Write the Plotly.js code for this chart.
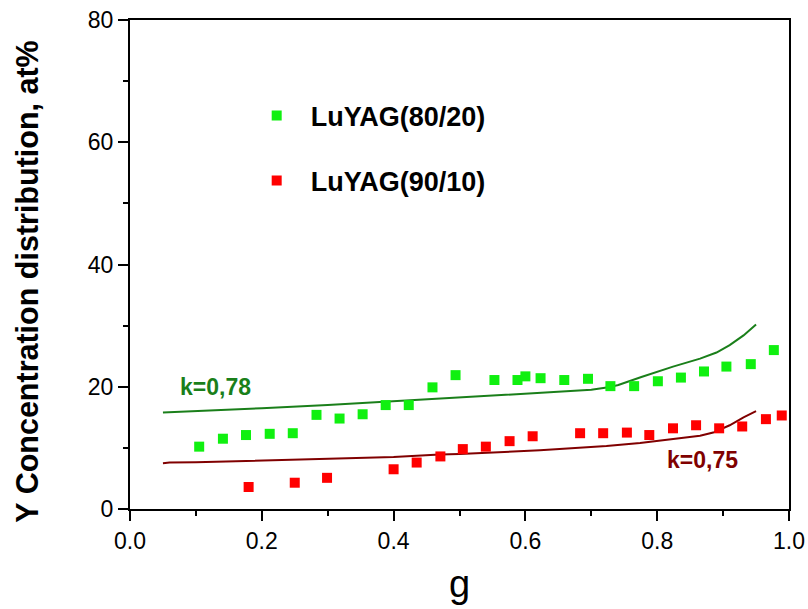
<!DOCTYPE html>
<html>
<head>
<meta charset="utf-8">
<script src="https://cdn.plot.ly/plotly-3.0.1.min.js"></script>
<style>html,body{margin:0;padding:0;background:#fff;}#chart{width:808px;height:609px;}</style>
</head>
<body>
<div id="chart"></div>
<script>
// Measured points
const g8020 = [0.105,0.141,0.176,0.212,0.247,0.283,0.318,0.353,0.388,0.423,0.459,0.494,0.553,0.588,0.600,0.623,0.659,0.695,0.729,0.765,0.801,0.836,0.871,0.905,0.942,0.977];
const c8020 = [10.2,11.5,12.1,12.3,12.4,15.4,14.8,15.5,17.0,17.0,19.9,21.9,21.1,21.1,21.7,21.4,21.1,21.3,20.1,20.1,20.9,21.5,22.5,23.3,23.7,26.0];
const g9010 = [0.180,0.250,0.299,0.400,0.435,0.471,0.505,0.540,0.576,0.611,0.683,0.718,0.754,0.788,0.824,0.859,0.894,0.929,0.965,0.989];
const c9010 = [3.6,4.3,5.1,6.5,7.6,8.6,9.8,10.2,11.1,11.9,12.4,12.4,12.5,12.1,13.2,13.7,13.2,13.5,14.7,15.3];
// Model curves
const gFit78 = [0.05,0.1,0.2,0.3,0.4,0.47,0.5,0.6,0.7,0.726,0.741,0.776,0.824,0.865,0.89,0.91,0.931,0.95];
const cFit78 = [15.8,16.0,16.5,17.0,17.6,18.0,18.2,18.9,19.5,19.9,20.3,21.6,23.3,24.6,25.6,26.8,28.4,30.2];
const gFit75 = [0.05,0.06,0.1,0.2,0.3,0.4,0.47,0.5,0.622,0.723,0.774,0.824,0.865,0.885,0.91,0.931,0.95];
const cFit75 = [7.5,7.6,7.65,7.9,8.2,8.5,8.9,9.0,9.6,10.3,10.8,11.4,12.0,12.5,13.7,15.0,16.0];
const names = ['LuYAG(80/20)','LuYAG(90/10)'];
const kLabels = ['k=0,78','k=0,75'];
const kPos = [[0.129,19.96],[0.868,8.0]];

const font = 'Liberation Sans, Arial, sans-serif';
const traces = [
  {x:gFit78,y:cFit78,mode:'lines',line:{color:'#1a7f1a',width:2},showlegend:false,hoverinfo:'skip'},
  {x:gFit75,y:cFit75,mode:'lines',line:{color:'#800000',width:2},showlegend:false,hoverinfo:'skip'},
  {x:g8020,y:c8020,mode:'markers',name:names[0],marker:{symbol:'square',size:10,color:'#10f010'},legend:'legend'},
  {x:g9010,y:c9010,mode:'markers',name:names[1],marker:{symbol:'square',size:10,color:'#ff0000'},legend:'legend2'}
];
const axCommon = {showgrid:false,zeroline:false,showline:true,linecolor:'#000',linewidth:2,mirror:true,
  ticks:'outside',ticklen:10,tickwidth:2,tickcolor:'#000',
  tickfont:{family:font,size:23,color:'#000'}};
const legCommon = {font:{family:font,size:27,color:'#000',weight:'bold'},bgcolor:'rgba(0,0,0,0)',
  itemwidth:58,xanchor:'left',yanchor:'middle'};
const layout = {
  width:808,height:609,
  margin:{l:130,r:19,t:20,b:100},
  paper_bgcolor:'#fff',plot_bgcolor:'#fff',
  xaxis:Object.assign({},axCommon,{range:[0,1],dtick:0.2,tickformat:'.1f',
    minor:{dtick:0.1,ticks:'outside',ticklen:5,tickwidth:2,tickcolor:'#000'},
    title:{text:'g',font:{family:font,size:38,color:'#000'},standoff:18}}),
  yaxis:Object.assign({},axCommon,{range:[0,80],dtick:20,
    minor:{dtick:10,ticks:'outside',ticklen:5,tickwidth:2,tickcolor:'#000'},
    title:{text:'Y Concentration distribution, at%&nbsp;&nbsp;&nbsp;&nbsp;',font:{family:font,size:30.5,color:'#000',weight:'bold'},standoff:40}}),
  legend:Object.assign({},legCommon,{x:0.171,y:0.804}),
  legend2:Object.assign({},legCommon,{x:0.171,y:0.671}),
  annotations:[
    {x:kPos[0][0],y:kPos[0][1],xref:'x',yref:'y',text:kLabels[0],showarrow:false,font:{family:font,size:23,color:'#1a7f1a',weight:'bold'}},
    {x:kPos[1][0],y:kPos[1][1],xref:'x',yref:'y',text:kLabels[1],showarrow:false,font:{family:font,size:23,color:'#800000',weight:'bold'}}
  ]
};
Plotly.newPlot('chart',traces,layout,{displayModeBar:false,staticPlot:true});
</script>
</body>
</html>
